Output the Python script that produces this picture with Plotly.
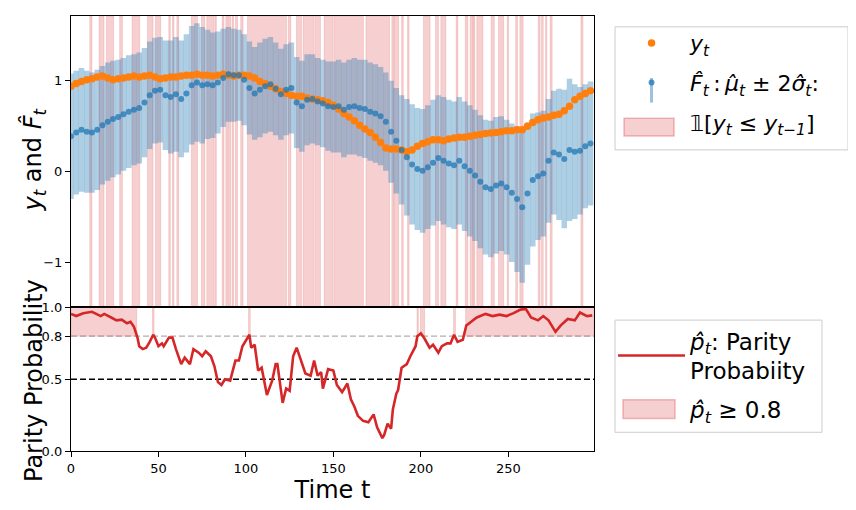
import plotly.graph_objects as go
from plotly.subplots import make_subplots

# top panel: observations y_t and forecast mean / std, every 3rd step
t = list(range(0, 300, 3))
y_obs = [0.94, 0.97, 0.99, 1.01, 1.02, 1.04, 1.05, 1.03, 1.01, 1.02,
         1.03, 1.04, 1.05, 1.04, 1.05, 1.06, 1.04, 1.02, 1.03, 1.04,
         1.04, 1.05, 1.06, 1.06, 1.07, 1.06, 1.06, 1.05, 1.06, 1.07,
         1.06, 1.05, 1.06, 1.06, 1.05, 1.03, 0.99, 0.97, 0.94, 0.91,
         0.88, 0.86, 0.84, 0.83, 0.83, 0.81, 0.80, 0.79, 0.78, 0.76,
         0.73, 0.69, 0.64, 0.60, 0.56, 0.51, 0.47, 0.43, 0.38, 0.32,
         0.26, 0.25, 0.25, 0.24, 0.22, 0.24, 0.28, 0.31, 0.33, 0.35,
         0.35, 0.34, 0.36, 0.37, 0.38, 0.38, 0.39, 0.40, 0.41, 0.42,
         0.425, 0.43, 0.44, 0.45, 0.45, 0.46, 0.46, 0.50, 0.54, 0.57,
         0.59, 0.60, 0.62, 0.63, 0.67, 0.72, 0.79, 0.83, 0.86, 0.89]
mu_hat = [0.39, 0.43, 0.46, 0.44, 0.43, 0.46, 0.51, 0.55, 0.58, 0.60,
          0.63, 0.66, 0.68, 0.70, 0.76, 0.84, 0.89, 0.90, 0.84, 0.82,
          0.85, 0.80, 0.86, 0.95, 0.98, 0.95, 0.96, 0.95, 0.98, 1.03,
          1.07, 1.06, 1.06, 1.01, 0.92, 0.86, 0.90, 0.94, 0.96, 0.91,
          0.85, 0.90, 0.92, 0.76, 0.72, 0.79, 0.80, 0.77, 0.75, 0.72,
          0.71, 0.72, 0.68, 0.71, 0.72, 0.70, 0.69, 0.66, 0.64, 0.61,
          0.55, 0.44, 0.34, 0.24, 0.16, 0.08, 0.03, 0.01, 0.05, 0.10,
          0.15, 0.12, 0.09, 0.07, 0.12, 0.06, 0.01, -0.04, -0.11, -0.17,
          -0.19, -0.15, -0.13, -0.17, -0.23, -0.30, -0.39, -0.24, -0.09, -0.05,
          -0.02, 0.12, 0.21, 0.19, 0.14, 0.24, 0.22, 0.23, 0.28, 0.31]
sigma_hat = [0.345, 0.34, 0.34, 0.335, 0.33, 0.33, 0.325, 0.325, 0.32, 0.315,
             0.31, 0.31, 0.305, 0.305, 0.30, 0.295, 0.29, 0.29, 0.30, 0.31,
             0.315, 0.32, 0.325, 0.325, 0.325, 0.32, 0.30, 0.29, 0.28, 0.27,
             0.26, 0.255, 0.25, 0.25, 0.255, 0.255, 0.26, 0.26, 0.26, 0.255,
             0.25, 0.25, 0.25, 0.25, 0.25, 0.25, 0.245, 0.24, 0.24, 0.245,
             0.25, 0.255, 0.26, 0.26, 0.265, 0.265, 0.27, 0.27, 0.27, 0.27,
             0.27, 0.28, 0.29, 0.30, 0.32, 0.33, 0.335, 0.34, 0.34, 0.345,
             0.345, 0.35, 0.35, 0.35, 0.35, 0.355, 0.36, 0.36, 0.365, 0.37,
             0.375, 0.375, 0.37, 0.37, 0.38, 0.40, 0.415, 0.39, 0.365, 0.35,
             0.345, 0.34, 0.34, 0.36, 0.38, 0.39, 0.37, 0.35, 0.34, 0.34]

# runs where y_t <= y_{t-1}
down_start = [10.7, 16.0, 20.2, 27.8, 34.9, 43.7, 48.2, 55.9, 58.0, 60.5,
              68.8, 74.6, 77.6, 82.2, 86.4, 88.5, 89.8, 92.1, 94.0, 97.0,
              100.9, 124.2, 128.9, 132.7, 139.4, 144.7, 150.5, 168.6, 183.4, 184.7,
              189.0, 192.4, 201.5, 208.4, 211.4, 220.2, 225.4, 228.2, 230.0, 232.0,
              240.2, 244.4, 249.4, 254.2, 256.6, 267.1, 269.0, 271.3, 273.9, 291.5]
down_end = [12.0, 18.9, 24.4, 29.4, 39.3, 46.9, 51.3, 56.8, 58.9, 61.6,
            72.3, 76.5, 81.6, 83.1, 87.5, 89.4, 91.3, 93.0, 95.2, 98.4,
            123.2, 125.7, 131.8, 138.8, 142.6, 149.9, 167.2, 182.1, 184.4, 187.3,
            190.0, 193.3, 205.3, 210.1, 214.3, 221.2, 226.9, 229.8, 230.9, 235.5,
            242.0, 247.4, 250.2, 255.3, 258.5, 268.2, 270.0, 272.0, 275.1, 292.7]

# bottom panel: parity probability
p_t = [0, 3, 7, 12, 17, 19, 23, 26, 29, 32, 34, 36, 38, 39, 41, 43, 45, 47, 48, 50,
       52, 53, 56, 58, 60, 63, 65, 68, 70, 73, 75, 77, 80, 82, 84, 86, 88, 91, 94, 96,
       98, 101, 102, 103, 105, 107, 109, 112, 115, 117, 118, 121, 123, 125, 127, 129, 132, 134, 137, 139,
       141, 143, 144, 147, 150, 152, 155, 158, 160, 162, 164, 167, 170, 173, 175, 178, 179, 181, 183, 184,
       186, 187, 189, 192, 194, 197, 198, 200, 202, 205, 207, 210, 212, 215, 217, 219, 221, 224, 226, 229,
       232, 237, 241, 245, 249, 253, 257, 260, 263, 267, 270, 273, 276, 277, 280, 284, 288, 291, 295, 298]
p_hat = [0.955, 0.94, 0.96, 0.97, 0.94, 0.955, 0.93, 0.91, 0.915, 0.89, 0.90, 0.865, 0.79, 0.73, 0.71, 0.72, 0.76, 0.81, 0.79, 0.73,
         0.75, 0.73, 0.79, 0.79, 0.71, 0.605, 0.65, 0.605, 0.71, 0.685, 0.66, 0.695, 0.66, 0.59, 0.48, 0.46, 0.50, 0.49, 0.63, 0.63,
         0.73, 0.79, 0.81, 0.72, 0.74, 0.56, 0.58, 0.39, 0.49, 0.605, 0.605, 0.335, 0.435, 0.42, 0.66, 0.72, 0.615, 0.54, 0.525, 0.63,
         0.525, 0.55, 0.435, 0.57, 0.56, 0.46, 0.41, 0.47, 0.36, 0.31, 0.245, 0.21, 0.20, 0.255, 0.165, 0.09, 0.11, 0.19, 0.155, 0.29,
         0.40, 0.425, 0.58, 0.605, 0.66, 0.73, 0.80, 0.82, 0.785, 0.72, 0.74, 0.685, 0.73, 0.75, 0.75, 0.81, 0.76, 0.775, 0.875, 0.90,
         0.93, 0.955, 0.94, 0.95, 0.94, 0.96, 0.985, 0.99, 0.93, 0.91, 0.94, 0.91, 0.855, 0.83, 0.875, 0.92, 0.91, 0.965, 0.94, 0.945]

# runs where p_t >= 0.8
high_start = [0, 46.5, 101.5, 197.8, 199.8, 218.7, 225.6]
high_end = [37.6, 47.5, 102.5, 198.6, 202.2, 219.8, 299]
threshold = 0.8

FONT = "DejaVu Sans"
PINK = "rgba(214,39,40,0.22)"
PINK_EDGE = "rgba(214,39,40,0.18)"
CLEAR = "rgba(0,0,0,0)"

fig = make_subplots(rows=2, cols=1, shared_xaxes=True, vertical_spacing=0,
                    row_heights=[0.67, 0.33])

# forecast band as error bars
fig.add_trace(go.Scatter(
    x=t, y=mu_hat, mode="markers", showlegend=False,
    marker=dict(size=1, color=CLEAR),
    error_y=dict(type="data", array=[2 * s for s in sigma_hat], width=0,
                 thickness=5.5, color="rgba(31,119,180,0.36)")
), row=1, col=1)

fig.add_trace(go.Scatter(
    x=t, y=y_obs, mode="markers", name="<i>y<sub>t</sub></i>",
    marker=dict(size=7.5, color="#ff7f0e"), legend="legend", legendgroup="a"
), row=1, col=1)

fig.add_trace(go.Scatter(
    x=t, y=mu_hat, mode="markers",
    name="<i>F\u0302<sub>t</sub></i>\u2009:\u2009<i>\u03bc\u0302<sub>t</sub></i> \u00b1 2<i>\u03c3\u0302<sub>t</sub></i>:",
    marker=dict(size=6, color="rgba(31,119,180,0.75)"), legend="legend", legendgroup="b"
), row=1, col=1)

fig.add_trace(go.Scatter(
    x=[None], y=[None], mode="markers", marker=dict(color=CLEAR),
    name="\U0001D7D9[<i>y<sub>t</sub></i> \u2264 <i>y<sub>t\u22121</sub></i>]",
    legend="legend", legendgroup="c"
), row=1, col=1)

fig.add_trace(go.Scatter(
    x=p_t, y=p_hat, mode="lines",
    name="<i>p\u0302<sub>t</sub></i>: Parity<br>Probabiity",
    line=dict(color="#d62728", width=2.6), legend="legend2", legendgroup="d"
), row=2, col=1)

fig.add_trace(go.Scatter(
    x=[None], y=[None], mode="markers", marker=dict(color=CLEAR),
    name="<i>p\u0302<sub>t</sub></i> \u2265 0.8", legend="legend2", legendgroup="e"
), row=2, col=1)

# shading (added after the traces so the subplots are not skipped)
for s, e in zip(down_start, down_end):
    fig.add_vrect(x0=s, x1=e, row=1, col=1, fillcolor=PINK, layer="below",
                  line=dict(color=PINK_EDGE, width=0.8))

for s, e in zip(high_start, high_end):
    fig.add_shape(type="rect", x0=s, x1=e, y0=threshold, y1=1.0, xref="x2", yref="y2",
                  fillcolor=PINK, layer="below", line=dict(color=PINK_EDGE, width=0.8))

fig.add_hline(y=0.8, row=2, col=1, layer="below",
              line=dict(color="#b0b0b0", width=1.3, dash="6px,3px"))
fig.add_hline(y=0.5, row=2, col=1, layer="below",
              line=dict(color="black", width=1.3, dash="6px,3px"))

axis_style = dict(showline=True, linecolor="black", linewidth=1.2, mirror=True,
                  showgrid=False, zeroline=False, ticks="outside", ticklen=5,
                  tickwidth=1.2, tickcolor="black",
                  tickfont=dict(family=FONT, size=13, color="black"))

fig.update_xaxes(axis_style, range=[0, 299])
fig.update_xaxes(showticklabels=False, ticks="", row=1, col=1)
fig.update_xaxes(tickvals=[0, 50, 100, 150, 200, 250], row=2, col=1,
                 title=dict(text="Time t", font=dict(family=FONT, size=24, color="black"),
                            standoff=2))
fig.update_yaxes(axis_style)
fig.update_yaxes(range=[-1.49, 1.71], tickvals=[-1, 0, 1], row=1, col=1)
fig.update_yaxes(range=[0, 1.0], tickvals=[0, 0.5, 0.8, 1.0], ticktext=["0.0", "0.5", "0.8", "1.0"],
                 row=2, col=1)

# y titles
fig.add_annotation(xref="paper", yref="paper", x=-0.0707, y=0.670, textangle=-90,
                   showarrow=False, xanchor="center", yanchor="middle",
                   text="<i>y<sub>t</sub></i> and <i>F\u0302<sub>t</sub></i>",
                   font=dict(family=FONT, size=24, color="black"))
fig.add_annotation(xref="paper", yref="paper", x=-0.0707, y=0.161, textangle=-90,
                   showarrow=False, xanchor="center", yanchor="middle",
                   text="Parity Probability", font=dict(family=FONT, size=24, color="black"))

# legend frames and handles
fig.add_shape(type="rect", xref="paper", yref="paper", x0=1.0402, x1=1.4857, y0=0.6923, y1=0.9751,
              line=dict(color="#cccccc", width=1), fillcolor=CLEAR)
fig.add_shape(type="rect", xref="paper", yref="paper", x0=1.0402, x1=1.4359, y0=0.0430, y1=0.3009,
              line=dict(color="#cccccc", width=1), fillcolor=CLEAR)
fig.add_shape(type="rect", xref="paper", yref="paper", x0=1.0574, x1=1.1530, y0=0.7240, y1=0.7647,
              line=dict(color="rgba(214,39,40,0.3)", width=1.5), fillcolor=PINK)
fig.add_shape(type="rect", xref="paper", yref="paper", x0=1.0554, x1=1.1549, y0=0.0747, y1=0.1176,
              line=dict(color="rgba(214,39,40,0.3)", width=1.5), fillcolor=PINK)
fig.add_shape(type="line", xref="paper", yref="paper", x0=1.110, x1=1.110, y0=0.8009, y1=0.8575,
              line=dict(color="rgba(31,119,180,0.45)", width=3))

legend_style = dict(bgcolor=CLEAR, borderwidth=0, xanchor="left", yanchor="top",
                    traceorder="grouped", itemwidth=67)
fig.update_layout(
    width=848, height=503,
    margin=dict(l=63, r=262, t=1, b=60),
    paper_bgcolor="white", plot_bgcolor="white",
    font=dict(family=FONT, color="black"),
    legend=dict(legend_style, x=1.0364, y=0.986, tracegroupgap=8,
                font=dict(family=FONT, size=22, color="black")),
    legend2=dict(legend_style, x=1.0364, y=0.3031, tracegroupgap=6,
                 font=dict(family=FONT, size=23, color="black")),
)

fig.write_html("out.html")
